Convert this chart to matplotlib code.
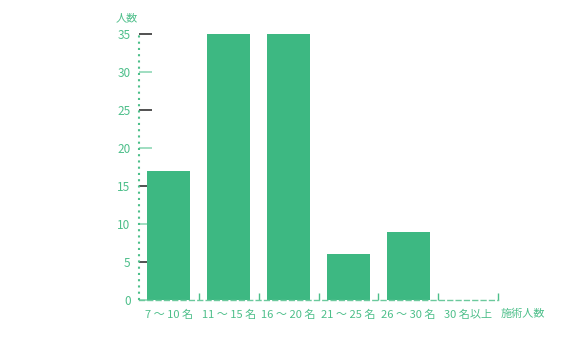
import matplotlib.pyplot as plt

plt.rcParams['font.family'] = ['Noto Sans CJK JP', 'DejaVu Sans']

# データ
categories = ["7 ～ 10 名", "11 ～ 15 名", "16 ～ 20 名", "21 ～ 25 名", "26 ～ 30 名", "30 名以上"]
counts = [17, 35, 35, 6, 9, 0]
yticks_dark = [5, 15, 25, 35]
yticks_light = [0, 10, 20, 30]

bar_color = "#3db882"
text_color = "#4dbf8a"

fig = plt.figure(figsize=(5.77, 3.52), dpi=100)
ax = fig.add_axes([139 / 577, 1 - 300 / 352, (498 - 139) / 577, (300 - 34) / 352])

x = list(range(len(categories)))
ax.bar(x, counts, width=0.72, color=bar_color, zorder=2)

ax.set_xlim(-0.5, len(categories) - 0.5)
ax.set_ylim(0, 35)

# 軸
for s in ["top", "right"]:
    ax.spines[s].set_visible(False)
ax.spines["left"].set_color(text_color)
ax.spines["left"].set_linewidth(1.5)
ax.spines["left"].set_linestyle((0, (1, 2)))
ax.spines["left"].set_capstyle("butt")
ax.spines["bottom"].set_color("#6cc99d")
ax.spines["bottom"].set_linewidth(1)
ax.spines["bottom"].set_linestyle((0, (3.5, 2.5)))

ax.set_yticks(yticks_dark, [str(v) for v in yticks_dark])
ax.set_yticks(yticks_light, [str(v) for v in yticks_light], minor=True)
ax.tick_params(axis="y", which="both", direction="in", length=9, width=1.2, pad=6,
               labelcolor=text_color, labelsize=8.5)
ax.tick_params(axis="y", which="major", color="#333333")
ax.tick_params(axis="y", which="minor", color="#8fd8b6")

ax.set_xticks(x, categories)
ax.tick_params(axis="x", which="major", length=0, pad=7, labelcolor=text_color, labelsize=8)
ax.set_xticks([i + 0.5 for i in x], minor=True)
ax.tick_params(axis="x", which="minor", direction="in", length=5, width=1, color=text_color)

fig.text(127 / 577, 1 - 18 / 352, "人数", color=text_color, fontsize=8, ha="center", va="center")
fig.text(501 / 577, 1 - 314 / 352, "施術人数", color=text_color, fontsize=8, ha="left", va="center")

plt.savefig("out.png", dpi=100)
